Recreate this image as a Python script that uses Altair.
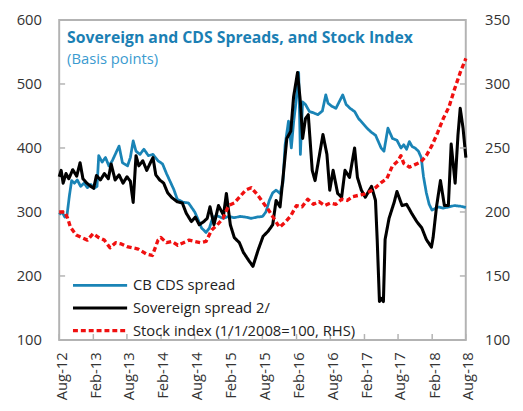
import altair as alt
import pandas as pd

# ---------------- data ----------------
# month offsets since Aug-2012 and values (basis points / index)
cds_month = [0, 0.5, 1, 1.4, 1.8, 2.2, 2.7, 3.2, 3.8, 4.4, 5, 5.6, 6.2, 6.7, 7, 7.6, 8.2, 8.8, 9.4,
             10.6, 11.2, 12.1, 12.6, 13.1, 13.6, 14.3, 15, 15.8, 16.6, 17.5, 18.3, 19, 20.3, 20.9,
             22, 22.9, 24, 24.5, 25.2, 26, 26.6, 27.2, 28, 29, 30, 31, 32, 33, 34, 35, 36, 36.6,
             37.2, 37.8, 38.4, 39.1, 39.6, 40, 40.6, 41.1, 41.5, 41.9, 42.4, 42.7, 43.1, 43.6, 44.3,
             45, 45.8, 46.6, 47.2, 47.6, 48.3, 49, 50.2, 50.8, 51.5, 52.3, 53, 53.8, 54.5, 55.2,
             56, 57, 57.5, 58.2, 59, 59.8, 60.5, 61, 61.5, 62, 62.5, 63, 63.6, 64.1, 64.5, 65,
             65.5, 66, 66.5, 67, 68, 69, 70, 71, 72]
cds_value = [296, 300, 292, 296, 325, 349, 345, 350, 340, 345, 338, 343, 337, 340, 388, 378, 385, 372, 380,
             403, 377, 372, 385, 411, 395, 390, 398, 388, 390, 380, 375, 360, 335, 320,
             315, 314, 300, 290, 275, 268, 275, 292, 294, 290, 293, 291, 293, 292, 290, 292, 293, 300,
             318, 330, 334, 329, 345, 405, 442, 400, 440, 470, 518, 390, 472, 468, 457,
             455, 452, 458, 483, 470, 465, 462, 483, 468, 462, 457, 446, 438, 431, 425,
             420, 400, 395, 431, 415, 412, 400, 405, 398, 410, 402, 400, 395, 385, 355, 330,
             312, 303, 305, 308, 306, 308, 310, 309, 307]

sov_month = [0, 0.35, 0.7, 1.2, 1.7, 2.4, 3.1, 3.7, 4.2, 4.9, 5.6, 6.1, 6.6, 7.3, 8.0, 8.7, 9.2,
             9.9, 10.6, 11.3, 12, 12.6, 13.1, 13.6, 14.1, 14.8, 15.5, 16.2, 16.6, 17.1, 17.8, 18.5,
             19.2, 20, 20.9, 21.8, 22.5, 23.4, 24.1, 24.8, 25.6, 26.2, 26.7, 27.4, 28.2, 29.1, 29.6,
             30.3, 31, 31.9, 32.6, 33.5, 34.3, 35.2, 36.1, 37, 37.8, 38.4, 39.1, 39.7, 40.3, 41,
             41.5, 42.2, 42.7, 43.1, 43.6, 44.1, 44.8, 45.3, 45.9, 46.7, 47.4, 47.9, 48.5, 49.3,
             50, 50.6, 51.4, 52.3, 52.8, 53.5, 54.2, 55.3, 56, 56.3, 56.7, 57, 57.4, 57.7, 58.4,
             59.3, 59.8, 60.7, 61.5, 62.4, 63.3, 64.2, 65, 65.9, 66.2, 66.8, 67.5, 68.2, 68.9,
             69.4, 70.1, 70.6, 71, 71.5, 72]
sov_value = [355, 365, 345, 360, 352, 366, 356, 377, 352, 345, 340, 337, 357, 350, 360, 352, 375,
             350, 358, 345, 355, 348, 315, 388, 372, 380, 365, 378, 385, 358, 350, 345,
             330, 322, 316, 314, 298, 285, 292, 280, 285, 290, 308, 280, 310, 295, 329,
             280, 260, 252, 237, 225, 215, 240, 262, 270, 280, 318, 308, 360, 415, 426,
             480, 518, 472, 415, 446, 452, 365, 349, 380, 421, 390, 334, 365, 329,
             323, 365, 354, 400, 354, 334, 323, 340, 318, 257, 160, 165, 160, 257, 290,
             315, 332, 310, 312, 298, 285, 275, 257, 245, 260, 308, 349, 310, 310,
             406, 345, 420, 462, 431, 385]

stock_month = [0, 1, 1.5, 2, 3, 4, 5, 6, 7, 8, 9, 10, 11, 12, 13, 14, 15.5, 16.5, 17.5, 18, 19,
               20, 21, 22, 23, 24, 25, 26, 27, 28, 29, 30, 31, 32, 33, 34, 35, 36, 37, 38, 39, 40,
               41, 42, 43, 44, 45, 46, 47, 48, 49, 50, 51, 52, 53, 54, 55, 56, 57, 58, 59, 60,
               60.5, 61, 62, 63, 64, 65, 66, 67, 68, 69, 70, 71, 72]
stock_value = [200, 200, 195, 188, 182, 180, 178, 183, 180, 178, 172, 176, 175, 173, 172, 171, 167,
               166, 178, 180, 176, 177, 174, 176, 178, 177, 176, 177, 186, 190, 195, 205, 207, 212,
               217, 219, 214, 208, 202, 195, 188, 192, 197, 205, 204, 210, 206, 208, 205, 207,
               206, 210, 209, 212, 213, 214, 216, 219, 223, 226, 236, 240, 244, 238, 235, 237,
               239, 244, 252, 262, 273, 282, 296, 309, 320]

series_names = ["CB CDS spread", "Sovereign spread 2/", "Stock index (1/1/2008=100, RHS)"]
series_colors = ["#1a84b6", "#000000", "#f01010"]
series_dash = [[1, 0], [1, 0], [5, 3]]
series_width = [2.8, 3.4, 3.0]

x_tick_labels = ["Aug-12", "Feb-13", "Aug-13", "Feb-14", "Aug-14", "Feb-15", "Aug-15",
                 "Feb-16", "Aug-16", "Feb-17", "Aug-17", "Feb-18", "Aug-18"]
left_ticks = [100, 200, 300, 400, 500, 600]
right_ticks = [100, 150, 200, 250, 300, 350]

title_text = "Sovereign and CDS Spreads, and Stock Index"
subtitle_text = "(Basis points)"

# ---------------- build tables ----------------
BASE = pd.Timestamp("2012-08-01")


def to_dates(months):
    return [(BASE + pd.Timedelta(days=m * 30.4375)).strftime("%Y-%m-%dT%H:%M:%S") for m in months]


left_df = pd.DataFrame({
    "date": to_dates(cds_month) + to_dates(sov_month),
    "value": cds_value + sov_value,
    "series": [series_names[0]] * len(cds_value) + [series_names[1]] * len(sov_value),
})
right_df = pd.DataFrame({
    "date": to_dates(stock_month),
    "value": stock_value,
    "series": [series_names[2]] * len(stock_value),
})
tick_dates = [pd.to_datetime("01-" + t, format="%d-%b-%y") for t in x_tick_labels]
xtick_df = pd.DataFrame({"date": [d.strftime("%Y-%m-%dT%H:%M:%S") for d in tick_dates]})
ltick_df = pd.DataFrame({"v": left_ticks[1:-1]})
rtick_df = pd.DataFrame({"v": right_ticks[1:-1]})

FONT = "Open Sans"
LABEL_COLOR = "#333333"
TICK_COLOR = "#b3b3b3"

x_values = [alt.DateTime(year=d.year, month=d.month, date=1) for d in tick_dates]
x_scale = alt.Scale(domain=[alt.DateTime(year=2012, month=8, date=1),
                            alt.DateTime(year=2018, month=8, date=1)])
x_axis = alt.Axis(values=x_values, format="%b-%y", labelAngle=270, labelAlign="right",
                  labelBaseline="middle", labelPadding=12, title=None, labelOffset=2)
X = alt.X("date:T", scale=x_scale, axis=x_axis)

left_scale = alt.Scale(domain=[100, 600], nice=False, zero=False)
right_scale = alt.Scale(domain=[100, 350], nice=False, zero=False)
left_axis = alt.Axis(values=left_ticks, orient="left", labelPadding=18, title=None)
right_axis = alt.Axis(values=right_ticks, orient="right", labelPadding=19, title=None,
                      labelAlign="left")

color_enc = alt.Color("series:N", scale=alt.Scale(domain=series_names, range=series_colors),
                      legend=alt.Legend(title=None))
dash_enc = alt.StrokeDash("series:N", scale=alt.Scale(domain=series_names, range=series_dash),
                          legend=alt.Legend(title=None))
width_enc = alt.StrokeWidth("series:N", scale=alt.Scale(domain=series_names, range=series_width),
                            legend=None)

left_lines = alt.Chart(left_df).mark_line(strokeJoin="round").encode(
    x=X,
    y=alt.Y("value:Q", scale=left_scale, axis=left_axis),
    color=color_enc, strokeDash=dash_enc, strokeWidth=width_enc,
)
left_tick_marks = alt.Chart(ltick_df).mark_rule(color=TICK_COLOR, strokeWidth=1.5).encode(
    y=alt.Y("v:Q", scale=left_scale, axis=left_axis),
    x=alt.value(0), x2=alt.value(6),
)
right_lines = alt.Chart(right_df).mark_line(strokeJoin="round").encode(
    x=X,
    y=alt.Y("value:Q", scale=right_scale, axis=right_axis),
    color=color_enc, strokeDash=dash_enc, strokeWidth=width_enc,
)
right_tick_marks = alt.Chart(rtick_df).mark_rule(color=TICK_COLOR, strokeWidth=1.5).encode(
    y=alt.Y("v:Q", scale=right_scale, axis=right_axis),
    x=alt.value(407), x2=alt.value(413),
)
x_tick_marks = alt.Chart(xtick_df).mark_rule(color=TICK_COLOR, strokeWidth=1.5).encode(
    x=X, y=alt.value(325), y2=alt.value(319),
)

one = alt.Data(values=[{"k": 1}])
title_mark = alt.Chart(one).mark_text(
    text=title_text, font=FONT, fontSize=16, fontWeight="bold", color="#1b7fb4",
    align="left", baseline="alphabetic").encode(x=alt.value(8), y=alt.value(23))
subtitle_mark = alt.Chart(one).mark_text(
    text=subtitle_text, font=FONT, fontSize=15, color="#3b9bd0",
    align="left", baseline="alphabetic").encode(x=alt.value(8), y=alt.value(45))

left = alt.layer(left_lines, x_tick_marks, left_tick_marks)
right = alt.layer(right_lines, right_tick_marks, title_mark, subtitle_mark)

chart = alt.layer(left, right).resolve_scale(y="independent").properties(
    width=413, height=325,
    autosize=alt.AutoSizeParams(type="none"),
    padding={"left": 52, "top": 9, "right": 50, "bottom": 70},
).configure_view(
    stroke="#b3b3b3", strokeWidth=2,
).configure_axis(
    grid=False, domain=False, ticks=False,
    labelFont=FONT, labelFontSize=15, labelColor=LABEL_COLOR,
).configure_legend(
    orient="none", legendX=34, legendY=262, padding=0,
    labelFont=FONT, labelFontSize=15, labelColor="#222222", labelLimit=400,
    symbolType="M-5,0H5", symbolSize=121, symbolStrokeWidth=3,
    labelOffset=26, rowPadding=7,
)

chart.save("out.html", embed_options={"renderer": "svg", "actions": False})
